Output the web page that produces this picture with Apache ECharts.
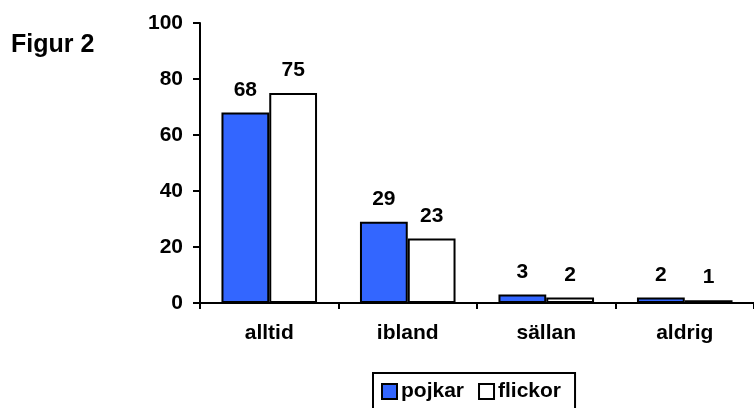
<!DOCTYPE html>
<html><head><meta charset="utf-8">
<script src="https://cdn.jsdelivr.net/npm/echarts@6/dist/echarts.min.js"></script>
<style>html,body{margin:0;padding:0;background:#fff}#c{width:754px;height:408px}</style>
</head><body><div id="c"></div>
<script>
var categories = ['alltid', 'ibland', 'sällan', 'aldrig'];
var pojkar = [68, 29, 3, 2];
var flickor = [75, 23, 2, 1];
var yTicks = [0, 20, 40, 60, 80, 100];

var FONT = "'Liberation Sans', Arial, sans-serif";
var FS = 21;
var chart = echarts.init(document.getElementById('c'));
var lbl = {show: true, position: 'top', distance: 12, color: '#000', fontFamily: FONT, fontWeight: 'bold', fontSize: FS};
chart.setOption({
  animation: false,
  title: {text: 'Figur 2', left: 11, top: 33, padding: 0, textStyle: {fontFamily: FONT, fontWeight: 'bold', fontSize: 25, color: '#000'}},
  legend: {
    left: 373, top: 373, orient: 'horizontal',
    padding: [8, 14, 20, 8],
    borderColor: '#000', borderWidth: 2,
    icon: 'rect',
    itemWidth: 15, itemHeight: 15, itemGap: 14,
    textStyle: {fontFamily: FONT, fontWeight: 'bold', fontSize: FS, color: '#000', padding: [0, 0, 0, -1]},
    data: ['pojkar', 'flickor']
  },
  grid: {left: 200, top: 23, width: 560, height: 280},
  xAxis: {
    type: 'category', data: categories,
    axisLine: {lineStyle: {color: '#000', width: 2}},
    axisTick: {show: true, length: 6, lineStyle: {color: '#000', width: 2}},
    axisLabel: {margin: 20, color: '#000', fontFamily: FONT, fontWeight: 'bold', fontSize: FS}
  },
  yAxis: {
    type: 'value', min: 0, max: 100, interval: 20,
    axisLine: {show: true, lineStyle: {color: '#000', width: 2}},
    axisTick: {show: true, length: 7, lineStyle: {color: '#000', width: 2}},
    splitLine: {show: false},
    axisLabel: {margin: 17, color: '#000', fontFamily: FONT, fontWeight: 'bold', fontSize: FS,
      formatter: function (v) { return yTicks.indexOf(v) >= 0 ? String(v) : ''; }}
  },
  series: [
    {name: 'pojkar', type: 'bar', data: pojkar, barGap: '0%', barCategoryGap: '31%',
     itemStyle: {color: '#3366FF', borderColor: '#000', borderWidth: 2}, label: lbl},
    {name: 'flickor', type: 'bar', data: flickor, barGap: '0%', barCategoryGap: '31%',
     itemStyle: {color: '#FFFFFF', borderColor: '#000', borderWidth: 2}, label: lbl}
  ]
});
</script></body></html>
